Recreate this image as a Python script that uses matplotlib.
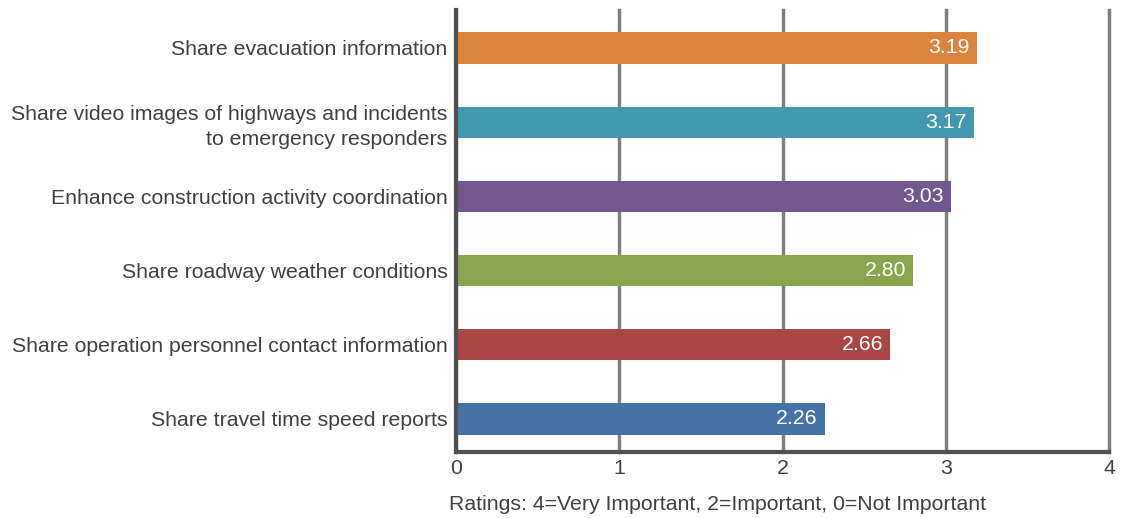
import matplotlib
matplotlib.use("Agg")
import matplotlib.pyplot as plt

categories = [
    "Share travel time speed reports",
    "Share operation personnel contact information",
    "Share roadway weather conditions",
    "Enhance construction activity coordination",
    "Share video images of highways and incidents\nto emergency responders",
    "Share evacuation information",
]
values = [2.26, 2.66, 2.80, 3.03, 3.17, 3.19]
colors = ["#4572A7", "#AA4643", "#89A54E", "#71588F", "#4198AF", "#DB843D"]
xticks = [0, 1, 2, 3, 4]
xlabel = "Ratings: 4=Very Important, 2=Important, 0=Not Important"

plt.rcParams['font.family'] = ['Liberation Sans', 'DejaVu Sans']
FS = 15.3

fig = plt.figure(figsize=(11.21, 5.18), dpi=100)
ax = fig.add_axes([456/1121, 1 - 452/518, (1109 - 456)/1121, (452 - 10)/518])

ypos = list(range(len(categories)))
ax.barh(ypos, values, height=0.42, color=colors, zorder=3)
for y, v in zip(ypos, values):
    ax.text(v - 0.045, y, f"{v:.2f}", ha="right", va="center", color="white",
            fontsize=FS, zorder=4)

ax.set_xlim(0, 4)
ax.set_ylim(-0.445, 5.512)
ax.set_xticks(xticks)
ax.set_xticklabels([str(t) for t in xticks])
ax.set_yticks(ypos)
ax.set_yticklabels(categories, ha="right")
ax.tick_params(axis="both", length=0, labelsize=FS, colors="#404040")
ax.tick_params(axis="y", pad=6)
ax.tick_params(axis="x", pad=5)
for lbl in ax.get_yticklabels():
    lbl.set_multialignment("right")
    lbl.set_linespacing(1.42)

ax.grid(axis="x", color="#808080", linewidth=2.5, zorder=1)
ax.grid(axis="y", visible=False)
for gl in ax.get_xgridlines():
    gl.set_clip_on(False)
for s in ["top", "right"]:
    ax.spines[s].set_visible(False)
for s in ["left", "bottom"]:
    ax.spines[s].set_color("#505050")
    ax.spines[s].set_linewidth(3)
    ax.spines[s].set_zorder(5)

fig.text(449/1121, 1 - 505/518, xlabel, fontsize=FS, color="#404040",
         ha="left", va="center")

fig.savefig("out.png", dpi=100)
